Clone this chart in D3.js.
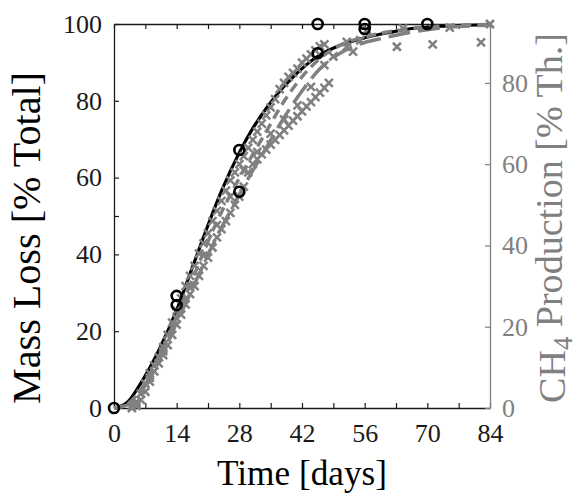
<!DOCTYPE html>
<html><head><meta charset="utf-8">
<script src="https://cdn.jsdelivr.net/npm/d3@7"></script>
<style>body{margin:0;background:#fff}</style>
</head><body>
<svg id="c" width="579" height="497"></svg>
<script>
// ---- data ----
const xTickValues = [0,7,14,21,28,35,42,49,56,63,70,77,84];
const xTickLabels = [0,14,28,42,56,70,84];
const yLeftTicks = [0,20,40,50,60,80,100];
const yLeftLabels = [0,20,40,60,80,100];
const yRightTicks = [0,20,40,60,80];

// mass loss measurements (black circles)
const massDays = [0,14,14,28,28,45.5,45.5,56,56,70];
const massLoss = [0,29.2,26.8,67.2,56.3,100,92.4,100,98.7,100];

// mass loss fit (black line)
const massFitDays = [0,3,6,10,14,17,20,24,28,31,34,37,40,45.5,50,56,62,67,75,84];
const massFitVals = [0,1.5,6.5,15,25.5,35,44.5,56.5,66.5,72.8,78,82.5,86.2,91.6,94.2,96.4,97.9,98.9,99.5,99.8];

// CH4 production replicates (gray x)
const ch4Days1 = [4,5,6,7,8,9,10,11,12,13,14,15,16,17,18,19,20,21,22,23,24,25,26,27,28,29,30,31,32,33,34,35,36,37,38,39,40,41,42,43,44,45,46,47,52,56.5,64.6,75,84];
const ch4Vals1 = [0.5,1.5,3.5,6,8.5,10.5,12.5,15,18,21,24,27,30,32.5,35,38,40.5,43,46,48.5,51,53.5,56,58,60,62,64,66,68,70,72,74,76,78.5,80,81.5,82.5,83.5,85,86,87,88,89,89.5,90.1,93,93.4,93.6,94.5];
const ch4Days2 = [5,8,11,14,17,20,23,26,29,32,35,38,41,44,47,49,52,55];
const ch4Vals2 = [1,7.5,14,22,30,37.5,45,52,58.5,63,67.5,71,74.5,79,84.4,86.5,88.9,90.5];
const ch4Days3 = [4,5,6,7,8,9,10,11,12,13,14,15,16,17,18,19,20,21,22,23,24,25,26,27,28,29,30,31,32,33,34,35,36,37,38,39,40,41,42,43,44,45,46,47,48,53.4,63.2,71.2,82];
const ch4Vals3 = [0,0.5,2,4,6.5,9,11,13,15.5,18,20.5,23,25.5,28,30,32.5,35,37,39.5,42,44,46,48,50,52,54.5,58,60,61.2,62.4,63.6,64.8,66,67.2,68.3,69.5,70.7,71.8,73,74.2,75.3,76.5,77.6,78.8,80,87.7,88.9,89.5,90];

// CH4 fits (gray dashed)
const ch4FitDays = [0,3,6,10,14,18,22,26,30,34,38,42,46,50,55,60,66,72,84];
const ch4FitA = [0,1,4.5,12.5,22.5,33,43.5,52.5,60.5,68,75.5,81.5,86,89,91,92.3,93.3,93.9,94.4];
const ch4FitB = [0,0.8,4,11.5,21,30.5,40,48.5,56.5,64,71.5,78,83.5,87,89.6,91,92.4,93.4,94.2];

// ---- drawing ----
const M = {l:114, r:490, t:24, b:408};
const font = '"Liberation Serif","DejaVu Serif",serif';
const gray = '#808080';
const x = d3.scaleLinear([0,84],[M.l,M.r]);
const yL = d3.scaleLinear([0,100],[M.b,M.t]);
const yR = d3.scaleLinear([0,94.5],[M.b,M.t]);
const svg = d3.select('#c');

function styleAxis(g, color){
  g.select('.domain').attr('stroke',color).attr('stroke-width',1.3);
  g.selectAll('.tick line').attr('stroke',color).attr('stroke-width',1.2);
  g.selectAll('.tick text').attr('fill',color).style('font-family',font).style('font-size','26px');
}

svg.append('g').attr('transform',`translate(0,${M.b})`)
  .call(d3.axisBottom(x).tickValues(xTickValues).tickSize(-5).tickSizeOuter(0).tickPadding(16)
    .tickFormat(d => xTickLabels.includes(d) ? d : ''))
  .call(g=>styleAxis(g,'#1a1a1a'));
svg.append('g').attr('transform',`translate(0,${M.t})`)
  .call(d3.axisTop(x).tickValues(xTickValues).tickSize(-5).tickSizeOuter(0).tickFormat(''))
  .call(g=>styleAxis(g,'#1a1a1a'));
svg.append('g').attr('transform',`translate(${M.l},0)`)
  .call(d3.axisLeft(yL).tickValues(yLeftTicks).tickSize(-5).tickSizeOuter(0).tickPadding(12)
    .tickFormat(d => yLeftLabels.includes(d) ? d : ''))
  .call(g=>styleAxis(g,'#1a1a1a'));
svg.append('g').attr('transform',`translate(${M.r},0)`)
  .call(d3.axisRight(yR).tickValues(yRightTicks).tickSize(-5).tickSizeOuter(0).tickPadding(12))
  .call(g=>styleAxis(g,gray));

// black fit line
const lineL = d3.line().x(d=>x(d[0])).y(d=>yL(d[1])).curve(d3.curveMonotoneX);
const lineR = d3.line().x(d=>x(d[0])).y(d=>yR(d[1])).curve(d3.curveMonotoneX);
svg.append('path').datum(d3.zip(massFitDays,massFitVals)).attr('d',lineL)
  .attr('fill','none').attr('stroke','#000').attr('stroke-width',3.2);

// gray x markers
const s = 4;
const xPath = `M${-s},${-s}L${s},${s}M${-s},${s}L${s},${-s}`;
[[ch4Days1,ch4Vals1],[ch4Days2,ch4Vals2],[ch4Days3,ch4Vals3]].forEach(([ds,vs])=>{
  svg.append('g').selectAll('path').data(d3.zip(ds,vs)).join('path')
    .attr('transform',d=>`translate(${x(d[0])},${yR(d[1])})`)
    .attr('d',xPath).attr('stroke',gray).attr('stroke-width',2.5).attr('fill','none');
});

// gray fits
svg.append('path').datum(d3.zip(ch4FitDays,ch4FitA)).attr('d',lineR)
  .attr('fill','none').attr('stroke',gray).attr('stroke-width',3.5).attr('stroke-dasharray','10,6');
svg.append('path').datum(d3.zip(ch4FitDays,ch4FitB)).attr('d',lineR)
  .attr('fill','none').attr('stroke',gray).attr('stroke-width',3.5).attr('stroke-dasharray','22,8');

// black circles
svg.append('g').selectAll('circle').data(d3.zip(massDays,massLoss)).join('circle')
  .attr('cx',d=>x(d[0])).attr('cy',d=>yL(d[1])).attr('r',5)
  .attr('fill','none').attr('stroke','#000').attr('stroke-width',2.6);

// titles
function fitText(t, target){
  const w = t.node().getComputedTextLength();
  const fs = parseFloat(t.style('font-size'));
  t.style('font-size', (fs*target/w)+'px');
}
const tx = svg.append('text').attr('x',302).attr('y',485).attr('text-anchor','middle')
  .style('font-family',font).style('font-size','30px').attr('fill','#000').text('Time [days]');
fitText(tx,170);
const tl = svg.append('text').attr('transform','translate(40,238) rotate(-90)').attr('text-anchor','middle')
  .style('font-family',font).style('font-size','30px').attr('fill','#000').text('Mass Loss [% Total]');
fitText(tl,332);
const tr = svg.append('text').attr('transform','translate(565,218) rotate(-90)').attr('text-anchor','middle')
  .style('font-family',font).style('font-size','30px').attr('fill',gray);
tr.append('tspan').text('CH');
tr.append('tspan').attr('dy','0.25em').style('font-size','0.7em').text('4');
tr.append('tspan').attr('dy','-0.25em').text(' Production [% Th.]');
fitText(tr,370);
</script>
</body></html>
